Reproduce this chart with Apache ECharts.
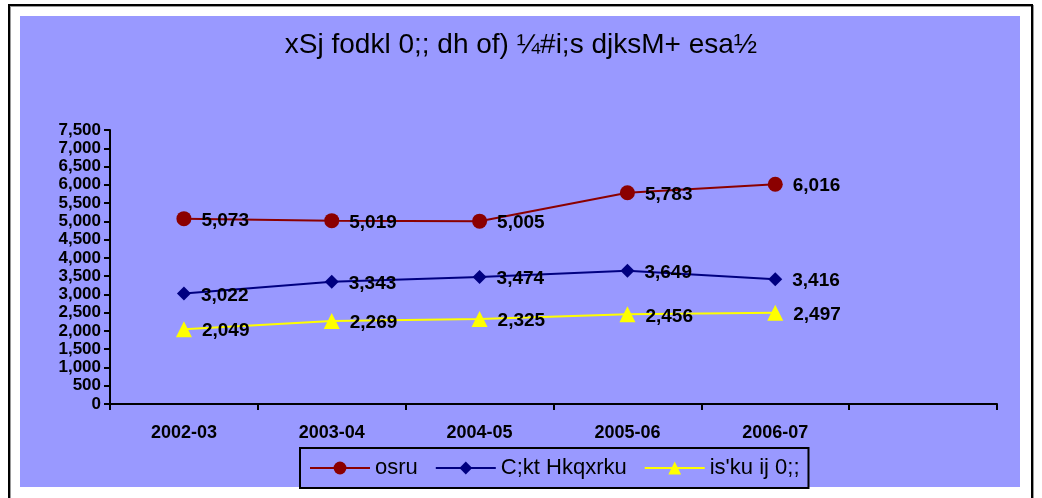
<!DOCTYPE html>
<html>
<head>
<meta charset="utf-8">
<script src="https://cdn.jsdelivr.net/npm/echarts@6/dist/echarts.min.js"></script>
<style>
  html, body { margin: 0; padding: 0; background: #fff; }
  #main { width: 1042px; height: 498px; }
</style>
</head>
<body>
<div id="main"></div>
<script>
var myChart = echarts.init(document.getElementById('main'));

// years (last slot is empty, as in the original)
var years = ['2002-03', '2003-04', '2004-05', '2005-06', '2006-07', ''];
var salary = [5073, 5019, 5005, 5783, 6016];     // osru
var interest = [3022, 3343, 3474, 3649, 3416];   // C;kt Hkqxrku
var pension = [2049, 2269, 2325, 2456, 2497];    // is'ku ij 0;;
var seriesNames = ['osru', 'C;kt Hkqxrku', "is'ku ij 0;;"];

var arial = '"Liberation Sans", Arial, sans-serif';

var fmt = function (p) {
    return p.value.toLocaleString('en-US');
};

function line(name, data, color, symbol, size) {
    return {
        name: name,
        type: 'line',
        data: data,
        symbol: symbol,
        symbolSize: size,
        lineStyle: { color: color, width: 2 },
        itemStyle: { color: color },
        label: {
            show: true,
            position: 'right',
            distance: 10,
            offset: [0, 2],
            formatter: fmt,
            color: '#000',
            fontFamily: arial,
            fontWeight: 'bold',
            fontSize: 19
        },
        animation: false
    };
}

option = {
    backgroundColor: '#fff',
    graphic: [
        {
            type: 'rect',
            shape: { x: 9, y: 5, width: 1023, height: 500 },
            style: { fill: '#fff', stroke: '#000', lineWidth: 2, shadowColor: '#999', shadowOffsetX: 1, shadowOffsetY: 1 },
            z: -10
        },
        {
            type: 'rect',
            shape: { x: 20, y: 16, width: 1000, height: 471 },
            style: { fill: '#9999FF' },
            z: -9
        }
    ],
    title: {
        text: 'xSj fodkl 0;; dh of) ¼#i;s djksM+ esa½',
        left: 'center',
        top: 26,
        textStyle: {
            fontFamily: arial,
            fontWeight: 'normal',
            fontSize: 28,
            color: '#000'
        }
    },
    legend: {
        data: seriesNames,
        left: 300,
        top: 448,
        padding: [9, 9],
        borderColor: '#000',
        borderWidth: 2,
        itemWidth: 60,
        itemHeight: 16,
        itemGap: 17,
        textStyle: {
            fontFamily: arial,
            fontSize: 22,
            color: '#000'
        }
    },
    grid: {
        left: 110,
        right: 45,
        top: 130,
        bottom: 94
    },
    xAxis: {
        type: 'category',
        data: years,
        boundaryGap: true,
        axisLine: { lineStyle: { color: '#000', width: 2 } },
        axisTick: { show: true, length: 6, lineStyle: { color: '#000', width: 2 } },
        axisLabel: {
            color: '#000',
            fontFamily: arial,
            fontWeight: 'bold',
            fontSize: 18,
            margin: 20
        },
        splitLine: { show: false }
    },
    yAxis: {
        type: 'value',
        min: 0,
        max: 7500,
        interval: 500,
        axisLine: { show: true, lineStyle: { color: '#000', width: 2 } },
        axisTick: { show: true, length: 6, lineStyle: { color: '#000', width: 2 } },
        axisLabel: {
            color: '#000',
            fontFamily: arial,
            fontWeight: 'bold',
            fontSize: 17,
            margin: 9,
            formatter: function (v) { return v.toLocaleString('en-US'); }
        },
        splitLine: { show: false }
    },
    series: [
        line(seriesNames[0], salary, '#8B0000', 'circle', 15),
        line(seriesNames[1], interest, '#000080', 'diamond', 14),
        line(seriesNames[2], pension, '#FFFF00', 'triangle', 16)
    ]
};

myChart.setOption(option);
</script>
</body>
</html>
